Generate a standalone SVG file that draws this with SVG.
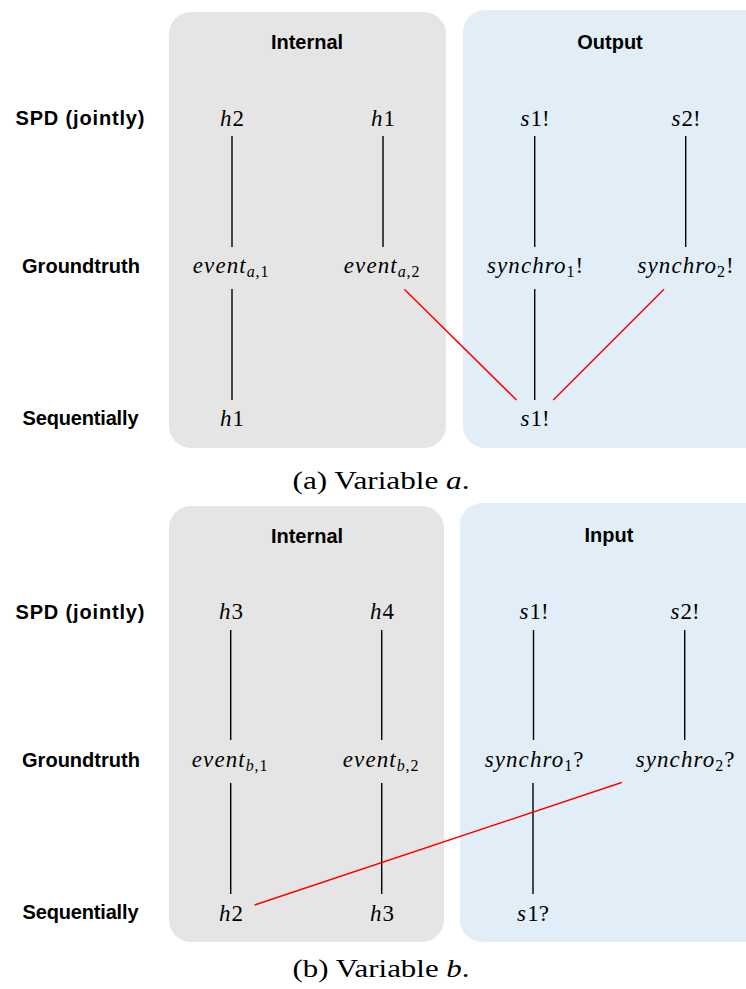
<svg xmlns="http://www.w3.org/2000/svg" width="746" height="989" viewBox="0 0 746 989">
<style>
.bg{fill:#ffffff}
.int{fill:#e5e5e5}
.ext{fill:#e1eef7}
.hd{font-family:"Liberation Sans",Arial,sans-serif;font-weight:bold;font-size:20px;fill:#000;text-anchor:middle}
.rl{font-family:"Liberation Sans",Arial,sans-serif;font-weight:bold;font-size:20px;fill:#000;text-anchor:middle}
.m{font-family:"Liberation Serif","Times New Roman",serif;font-size:23px;fill:#000;text-anchor:middle}
.mi{font-style:italic;letter-spacing:1.1px}
.sub{font-size:16px;letter-spacing:0.8px}
.cap{font-family:"Liberation Serif","Times New Roman",serif;font-size:25px;fill:#000;text-anchor:middle}
.k{stroke:#000;stroke-width:1.4;fill:none}
.r{stroke:#ff0000;stroke-width:1.5;fill:none}
</style>
<rect class="bg" x="0" y="0" width="746" height="989"/>

<!-- Panel (a) -->
<g id="panel-a">
  <g id="a-internal-box"><rect class="int" x="169" y="12" width="277" height="436" rx="22"/><text class="hd" x="307" y="49">Internal</text></g>
  <g id="a-output-box"><rect class="ext" x="463" y="10" width="310" height="438" rx="22"/><text class="hd" x="610" y="48.5">Output</text></g>
  <g id="a-row-labels">
    <text class="rl" x="80" y="125" textLength="129" lengthAdjust="spacing">SPD (jointly)</text>
    <text class="rl" x="81" y="273" textLength="118" lengthAdjust="spacing">Groundtruth</text>
    <text class="rl" x="80.5" y="425" textLength="116" lengthAdjust="spacing">Sequentially</text>
  </g>
  <g id="a-h2"><text class="m" x="232" y="125.5"><tspan class="mi">h</tspan>2</text></g>
  <g id="a-h1-top"><text class="m" x="383" y="125.5"><tspan class="mi">h</tspan>1</text></g>
  <g id="a-s1-top"><text class="m" x="535" y="125.5"><tspan class="mi">s</tspan>1!</text></g>
  <g id="a-s2-top"><text class="m" x="686" y="125.5"><tspan class="mi">s</tspan>2!</text></g>
  <g id="a-event1"><text class="m" x="231" y="273"><tspan class="mi">event</tspan><tspan class="sub mi" dy="4">a</tspan><tspan class="sub">,1</tspan></text></g>
  <g id="a-event2"><text class="m" x="382" y="273"><tspan class="mi">event</tspan><tspan class="sub mi" dy="4">a</tspan><tspan class="sub">,2</tspan></text></g>
  <g id="a-synchro1"><text class="m" x="535" y="273"><tspan class="mi">synchro</tspan><tspan class="sub" dy="4">1</tspan><tspan dy="-4">!</tspan></text></g>
  <g id="a-synchro2"><text class="m" x="685.5" y="273"><tspan class="mi">synchro</tspan><tspan class="sub" dy="4">2</tspan><tspan dy="-4">!</tspan></text></g>
  <g id="a-h1-bottom"><text class="m" x="232" y="426"><tspan class="mi">h</tspan>1</text></g>
  <g id="a-s1-bottom"><text class="m" x="535" y="426"><tspan class="mi">s</tspan>1!</text></g>
  <text class="cap" x="381" y="489" textLength="177" lengthAdjust="spacingAndGlyphs">(a) Variable <tspan font-style="italic">a</tspan>.</text>
</g>

<!-- Panel (b) -->
<g id="panel-b">
  <g id="b-internal-box"><rect class="int" x="169" y="506" width="275" height="436" rx="22"/><text class="hd" x="307" y="543">Internal</text></g>
  <g id="b-input-box"><rect class="ext" x="460" y="503" width="310" height="439" rx="22"/><text class="hd" x="609" y="541.5">Input</text></g>
  <g id="b-row-labels">
    <text class="rl" x="80" y="618.5" textLength="129" lengthAdjust="spacing">SPD (jointly)</text>
    <text class="rl" x="81" y="767" textLength="118" lengthAdjust="spacing">Groundtruth</text>
    <text class="rl" x="80.5" y="919" textLength="116" lengthAdjust="spacing">Sequentially</text>
  </g>
  <g id="b-h3-top"><text class="m" x="231" y="618.5"><tspan class="mi">h</tspan>3</text></g>
  <g id="b-h4"><text class="m" x="382" y="618.5"><tspan class="mi">h</tspan>4</text></g>
  <g id="b-s1-top"><text class="m" x="534" y="618.5"><tspan class="mi">s</tspan>1!</text></g>
  <g id="b-s2-top"><text class="m" x="685" y="618.5"><tspan class="mi">s</tspan>2!</text></g>
  <g id="b-event1"><text class="m" x="230" y="766.5"><tspan class="mi">event</tspan><tspan class="sub mi" dy="4">b</tspan><tspan class="sub">,1</tspan></text></g>
  <g id="b-event2"><text class="m" x="381" y="766.5"><tspan class="mi">event</tspan><tspan class="sub mi" dy="4">b</tspan><tspan class="sub">,2</tspan></text></g>
  <g id="b-synchro1"><text class="m" x="534" y="766.5"><tspan class="mi">synchro</tspan><tspan class="sub" dy="4">1</tspan><tspan dy="-4">?</tspan></text></g>
  <g id="b-synchro2"><text class="m" x="685" y="766.5"><tspan class="mi">synchro</tspan><tspan class="sub" dy="4">2</tspan><tspan dy="-4">?</tspan></text></g>
  <g id="b-h2"><text class="m" x="231" y="920.5"><tspan class="mi">h</tspan>2</text></g>
  <g id="b-h3-bottom"><text class="m" x="382" y="920.5"><tspan class="mi">h</tspan>3</text></g>
  <g id="b-s1-bottom"><text class="m" x="533" y="920.5"><tspan class="mi">s</tspan>1?</text></g>
  <text class="cap" x="381" y="977" textLength="177" lengthAdjust="spacingAndGlyphs">(b) Variable <tspan font-style="italic">b</tspan>.</text>
</g>

<g id="connectors">
  <line class="k" x1="232" y1="136" x2="232" y2="247"/>
  <line class="k" x1="383" y1="136" x2="383" y2="247"/>
  <line class="k" x1="534.7" y1="136" x2="534.7" y2="247"/>
  <line class="k" x1="685.7" y1="136" x2="685.7" y2="247"/>
  <line class="k" x1="232" y1="289" x2="232" y2="400"/>
  <line class="k" x1="534.7" y1="289" x2="534.7" y2="400"/>
  <line class="r" x1="404.3" y1="289.3" x2="516.5" y2="400"/>
  <line class="r" x1="664" y1="289.3" x2="553.3" y2="400"/>

  <line class="k" x1="230.7" y1="630" x2="230.7" y2="740"/>
  <line class="k" x1="381.7" y1="630" x2="381.7" y2="740"/>
  <line class="k" x1="533.5" y1="630" x2="533.5" y2="740"/>
  <line class="k" x1="684.7" y1="630" x2="684.7" y2="740"/>
  <line class="k" x1="230.7" y1="783" x2="230.7" y2="894"/>
  <line class="k" x1="381.7" y1="783" x2="381.7" y2="894"/>
  <line class="k" x1="533" y1="783" x2="533" y2="894"/>
  <line class="r" x1="621.7" y1="782.5" x2="254.5" y2="905"/>
</g>
</svg>
